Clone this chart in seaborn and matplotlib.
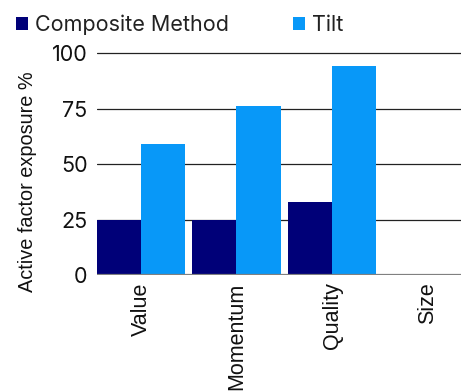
import matplotlib
matplotlib.use("Agg")
import matplotlib.pyplot as plt
from matplotlib.patches import Patch
import seaborn as sns
import pandas as pd

# Factor exposures by construction approach
factors = ["Value", "Momentum", "Quality", "Size"]
composite = [25, 25, 33, 0]
tilt = [59, 76, 94, 0]
series_names = ["Composite Method", "Tilt"]
palette = ["#000078", "#0898F8"]
yticks = [0, 25, 50, 75, 100]

df = pd.DataFrame({
    "factor": factors * 2,
    "exposure": composite + tilt,
    "method": [series_names[0]] * len(factors) + [series_names[1]] * len(factors),
})

sns.set_theme(style="white")
plt.rcParams["font.family"] = ["Liberation Sans", "DejaVu Sans"]

fig = plt.figure(figsize=(4.61, 3.92), dpi=100)
ax = fig.add_axes([0.2098, 0.2972, 0.7902, 0.5789])

sns.barplot(data=df, x="factor", y="exposure", hue="method", order=factors,
            hue_order=series_names, palette=palette, width=0.927, gap=0,
            saturation=1, legend=False, ax=ax, zorder=2,
            linewidth=0, edgecolor="none")

ax.set_ylim(0, 102)
ax.set_xlim(-0.463, 3.35)
ax.set_yticks(yticks)
ax.set_yticklabels([str(v) for v in yticks], fontfamily="Inter", fontsize=15.5)
ax.tick_params(axis="y", length=0, pad=6.5, colors="#111111")
ax.tick_params(axis="x", length=0, pad=5, labelrotation=90, labelsize=15.5,
               colors="#111111")
for lbl in ax.get_xticklabels():
    lbl.set_va("top")

for v in yticks[1:]:
    ax.axhline(v, color="#222222", lw=0.9, zorder=1)
ax.axhline(0, color="#808080", lw=1.6, zorder=3)

for s in ax.spines.values():
    s.set_visible(False)

ax.set_xlabel("")
ax.set_ylabel("Active factor exposure %", fontsize=14.3, color="#111111")
ax.yaxis.set_label_coords(-0.164, 0.415)

handles = [Patch(facecolor=c, edgecolor="none") for c in palette]
fig.legend(handles, series_names, loc="upper left",
           bbox_to_anchor=(0.035, 0.962), ncol=2, frameon=False,
           prop={"family": "Inter", "size": 15.5}, handlelength=0.56,
           handleheight=0.56, handletextpad=0.3, columnspacing=3.0,
           borderpad=0, borderaxespad=0, labelcolor="#222222")

fig.savefig("out.png", dpi=100)
